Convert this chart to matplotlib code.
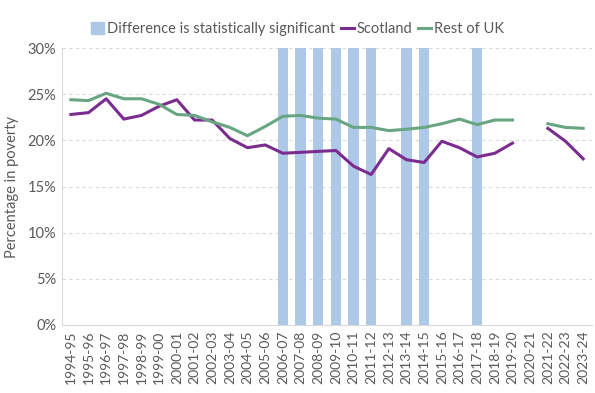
import matplotlib
matplotlib.use("Agg")
import matplotlib.pyplot as plt
import numpy as np
from matplotlib.patches import Patch
from matplotlib.lines import Line2D

years = ["1994-95","1995-96","1996-97","1997-98","1998-99","1999-00","2000-01","2001-02",
         "2002-03","2003-04","2004-05","2005-06","2006-07","2007-08","2008-09","2009-10",
         "2010-11","2011-12","2012-13","2013-14","2014-15","2015-16","2016-17","2017-18",
         "2018-19","2019-20","2020-21","2021-22","2022-23","2023-24"]
scotland = [22.8, 23.0, 24.5, 22.3, 22.7, 23.7, 24.4, 22.2, 22.2, 20.2, 19.2, 19.5, 18.6, 18.7,
            18.8, 18.9, 17.2, 16.3, 19.1, 17.9, 17.6, 19.9, 19.2, 18.2, 18.6, 19.7, np.nan,
            21.3, 19.9, 18.0]
rest_uk = [24.4, 24.3, 25.1, 24.5, 24.5, 23.9, 22.8, 22.7, 22.0, 21.4, 20.5, 21.5, 22.6, 22.7,
           22.4, 22.3, 21.4, 21.4, 21.05, 21.2, 21.4, 21.8, 22.3, 21.7, 22.2, 22.2, np.nan,
           21.8, 21.4, 21.3]
significant = ["2006-07","2007-08","2008-09","2009-10","2010-11","2011-12","2013-14","2014-15","2017-18"]

plt.rcParams['font.family'] = ['Lato', 'DejaVu Sans']
txt = '#595959'
c_scot = '#7b2c8f'
c_ruk = '#68a683'
c_bar = '#aec8e8'

fig = plt.figure(figsize=(5.95, 3.93), dpi=100)
ax = fig.add_axes([62/595, 1-325/393, (592-62)/595, (325-48)/393])

x = np.arange(len(years))
sig_vals = [30 if y in significant else 0 for y in years]
ax.bar(x, sig_vals, width=0.58, color=c_bar, zorder=1)
ax.plot(x, scotland, color=c_scot, lw=2.2, zorder=3)
ax.plot(x, rest_uk, color=c_ruk, lw=2.2, zorder=3)

ax.set_xlim(-0.5, len(years)-0.5)
ax.set_ylim(0, 30)
ax.set_yticks(range(0, 31, 5))
ax.set_yticklabels([f"{v}%" for v in range(0, 31, 5)], color=txt, fontsize=10.5)
ax.set_xticks(x)
ax.set_xticklabels(years, rotation=90, color=txt, fontsize=10)
ax.tick_params(axis='both', length=0, pad=4)
ax.grid(axis='y', color='#d9d9d9', linestyle=(0, (3, 3)), lw=0.8, zorder=0)
ax.set_axisbelow(True)
for s in ['top', 'right']:
    ax.spines[s].set_visible(False)
ax.spines['left'].set_color('#d9d9d9')
ax.spines['bottom'].set_color('#d9d9d9')
ax.set_ylabel("Percentage in poverty", color=txt, fontsize=10.5, labelpad=6)

handles = [Patch(color=c_bar, label="Difference is statistically significant"),
           Line2D([], [], color=c_scot, lw=2.2, label="Scotland"),
           Line2D([], [], color=c_ruk, lw=2.2, label="Rest of UK")]
leg = fig.legend(handles=handles, loc='center', bbox_to_anchor=(0.5, 1-29/393), ncol=3,
                 frameon=False, fontsize=10.5, handlelength=0.9, handletextpad=0.2,
                 columnspacing=0.4, handleheight=0.9)
for t in leg.get_texts():
    t.set_color(txt)

fig.savefig("out.png", dpi=100)
